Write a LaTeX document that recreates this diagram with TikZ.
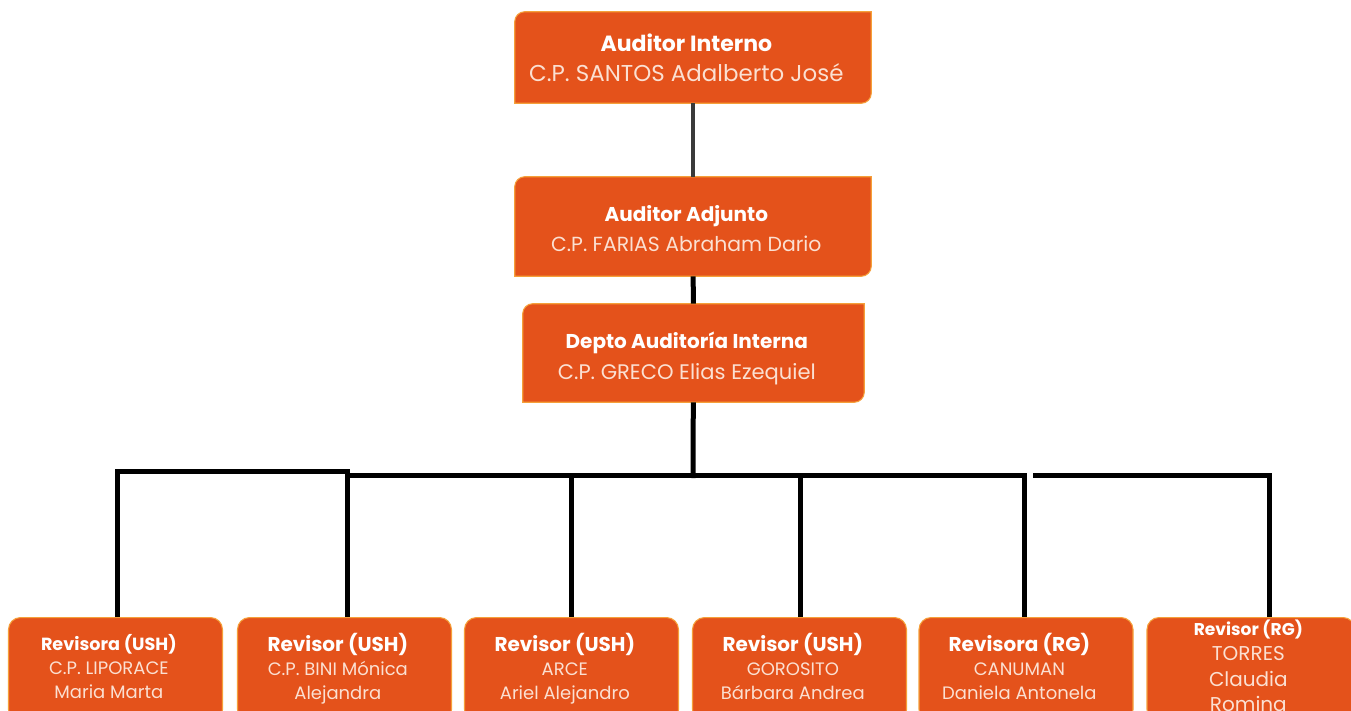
\documentclass[tikz,border=0pt]{standalone}
\usepackage{fontspec}
\setmainfont{Poppins}
\usetikzlibrary{backgrounds}
\definecolor{dorange}{HTML}{E4521B}
\definecolor{lorange}{HTML}{F5A03A}
\definecolor{namecol}{HTML}{FBE0D2}
\definecolor{topline}{HTML}{3A3A3A}

\tikzset{
    topbox/.style={minimum width=267pt, align=center, text=white, inner sep=0pt,
        text depth=0pt, font=\fontsize{15}{22}\selectfont},
    revbox/.style={draw=lorange, fill=dorange, line width=0.8pt, rounded corners=9pt,
        minimum width=160.5pt, minimum height=78pt, anchor=north, align=center,
        text=white, inner sep=0pt, text depth=5pt, font=\fontsize{13.5}{18}\selectfont},
    link/.style={black, line width=3.75pt},
}
\newcommand{\cutbox}[1]{%
    \draw[draw=lorange, fill=dorange, line width=0.8pt] (#1.south west)
        -- ([yshift=-7.5pt]#1.north west) arc[start angle=180, end angle=90, radius=7.5pt]
        -- (#1.north east)
        -- ([yshift=7.5pt]#1.south east) arc[start angle=0, end angle=-90, radius=7.5pt]
        -- cycle;}
% text sits a little left of the box middle
\newcommand{\who}[2][10pt]{{\color{namecol}#2}\hbox to #1{}}
\newcommand{\ttl}[1]{{\bfseries #1}\hbox to 10pt{}}
\newcommand{\rtitle}[1]{{\fontsize{15}{18}\selectfont\bfseries #1}\hbox to 10pt{}}

\begin{document}
\begin{tikzpicture}[x=0.75pt, y=-0.75pt]
\path[use as bounding box, clip] (0,0) rectangle (1351,710);

% top of the chart
\node[topbox, minimum height=68.25pt, text height=35.7pt] (aint) at (693,57.5)
    {{\fontsize{16.5}{22}\selectfont\ttl{Auditor Interno}}\\ \fontsize{17.2}{22}\selectfont\who{C.P. SANTOS Adalberto José}};
\node[topbox, minimum height=74.25pt, text height=38pt] (aadj) at (693,226.5)
    {\ttl{Auditor Adjunto}\\[1pt] \fontsize{15.3}{22}\selectfont\who{C.P. FARIAS Abraham Dario}};
\node[topbox, minimum width=255.75pt, minimum height=73.5pt, text height=39.5pt] (depto) at (693.5,353)
    {\ttl{Depto Auditoría Interna}\\[1pt] \fontsize{15.8}{22}\selectfont\who{C.P. GRECO Elias Ezequiel}};
\begin{scope}[on background layer]
\cutbox{aint}
\cutbox{aadj}
\cutbox{depto}
\end{scope}

% revisores
\node[revbox] (rA) at (115.5,617)
    {{\fontsize{13.2}{18}\selectfont\ttl{Revisora (USH)}}\\ \who{C.P. LIPORACE}\\ \who{Maria Marta}};
\node[revbox] (rB) at (344.5,617)
    {\rtitle{Revisor (USH)}\\ \who{C.P. BINI Mónica}\\ \who{Alejandra}};
\node[revbox] (rC) at (571.5,617)
    {\rtitle{Revisor (USH)}\\ \who{ARCE}\\ \who{Ariel Alejandro}};
\node[revbox] (rD) at (799.5,617)
    {\rtitle{Revisor (USH)}\\ \who{GOROSITO}\\ \who{Bárbara Andrea}};
\node[revbox] (rE) at (1026,617)
    {\rtitle{Revisora (RG)}\\ \who{CANUMAN}\\ \who{Daniela Antonela}};
\node[revbox, font=\fontsize{15}{19}\selectfont, minimum width=156pt, text depth=6pt] (rF) at (1251,617)
    {{\fontsize{12.8}{18}\selectfont\bfseries Revisor (RG)}\hbox to 4pt{}\\ \who[4pt]{TORRES}\\ \who[4pt]{Claudia}\\ \who[4pt]{Romina}};

% lines
\coordinate (hub) at (693,478);
\coordinate (busA) at (117,471);
\coordinate (busB) at (347,471);
\coordinate (busB2) at (347,475);
\coordinate (busC) at (571,475);
\coordinate (busD) at (800,475);
\coordinate (busE) at (1024,475);
\coordinate (busF0) at (1033,475);
\coordinate (busF) at (1269,475);

\draw[topline, line width=3pt] (aint) -- (aadj);
\draw[link] (aadj) -- (depto);
\draw[link] (depto) -- (hub);
\draw[link] (rA.north -| busA) -- (busA) -- (busB) -- (rB.north -| busB);
\draw[link] (busB2) -- (busE) -- (rE.north -| busE);
\draw[link] (busC) -- (rC.north -| busC);
\draw[link] (busD) -- (rD.north -| busD);
\draw[link] (busF0) -- (busF) -- (rF.north -| busF);
\end{tikzpicture}
\end{document}
